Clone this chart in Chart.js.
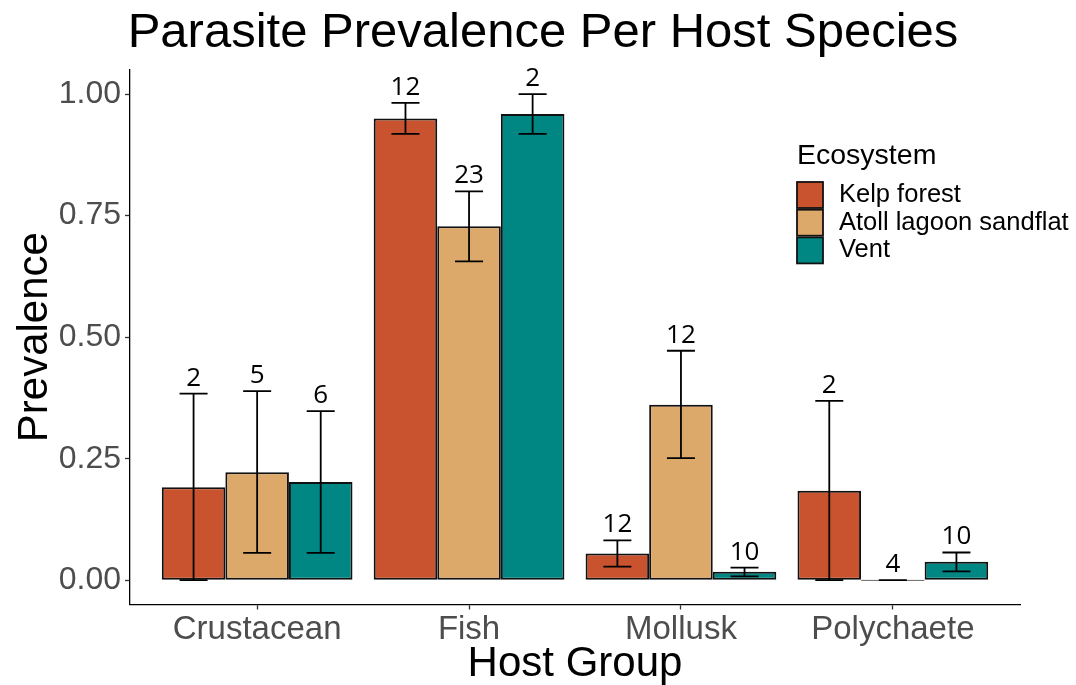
<!DOCTYPE html>
<html>
<head>
<meta charset="utf-8">
<script src="https://cdn.jsdelivr.net/npm/chart.js@4/dist/chart.umd.min.js"></script>
<style>
    html, body { margin: 0; padding: 0; background: #fff; }
    #wrap { width: 1076px; height: 685px; }
</style>
</head>
<body>
<div id="wrap"><canvas id="prevChart"></canvas></div>
<script>
const hostGroups = ['Crustacean', 'Fish', 'Mollusk', 'Polychaete'];
const ecosystems = ['Kelp forest', 'Atoll lagoon sandflat', 'Vent'];

// mean prevalence per group
const kelpPrev = [0.191, 0.950, 0.055, 0.184];
const atollPrev = [0.222, 0.728, 0.361, 0.0];
const ventPrev = [0.202, 0.959, 0.0175, 0.038];

// error bar bounds
const kelpLow = [0.0, 0.918, 0.028, 0.0];
const kelpHigh = [0.384, 0.982, 0.082, 0.369];
const atollLow = [0.056, 0.656, 0.251, 0.0];
const atollHigh = [0.389, 0.800, 0.472, 0.0];
const ventLow = [0.056, 0.918, 0.008, 0.018];
const ventHigh = [0.348, 1.0, 0.026, 0.057];

// sample sizes shown above the bars
const kelpN = [2, 12, 12, 2];
const atollN = [5, 23, 12, 4];
const ventN = [6, 2, 10, 10];

const yTicks = [0, 0.25, 0.5, 0.75, 1.0];

const colors = ['#C8532E', '#DDA96B', '#008784'];
const FONT = '"Liberation Sans", Arial, Helvetica, sans-serif';

const lows = [kelpLow, atollLow, ventLow];
const highs = [kelpHigh, atollHigh, ventHigh];
const counts = [kelpN, atollN, ventN];

// error bars + n labels
const errorBars = {
    id: 'errorBars',
    afterDatasetsDraw(chart) {
        const ctx = chart.ctx;
        const y = chart.scales.y;
        ctx.save();
        ctx.strokeStyle = '#000';
        ctx.lineWidth = 1.8;
        chart.data.datasets.forEach((ds, i) => {
            const meta = chart.getDatasetMeta(i);
            meta.data.forEach((bar, j) => {
                const top = y.getPixelForValue(highs[i][j]);
                const bot = y.getPixelForValue(lows[i][j]);
                const x = bar.x;
                ctx.beginPath();
                ctx.moveTo(x, top); ctx.lineTo(x, bot);
                ctx.moveTo(x - 14, top); ctx.lineTo(x + 14, top);
                ctx.moveTo(x - 14, bot); ctx.lineTo(x + 14, bot);
                ctx.stroke();
                ctx.fillStyle = '#000';
                ctx.font = '26px "Open Sans", sans-serif';
                ctx.textAlign = 'center';
                ctx.textBaseline = 'alphabetic';
                ctx.fillText(String(counts[i][j]), x, top - 8);
            });
        });
        ctx.restore();
    }
};

// legend inside the plot, ggplot style
const boxLegend = {
    id: 'boxLegend',
    afterDraw(chart) {
        const ctx = chart.ctx;
        ctx.save();
        ctx.fillStyle = '#000';
        ctx.textAlign = 'left';
        ctx.textBaseline = 'alphabetic';
        ctx.font = '28.5px ' + FONT;
        ctx.fillText('Ecosystem', 797, 164);
        chart.data.datasets.forEach((ds, i) => {
            const top = 182 + i * 27.7;
            ctx.fillStyle = ds.backgroundColor;
            ctx.fillRect(797, top, 26, 26);
            ctx.strokeStyle = '#111';
            ctx.lineWidth = 1.8;
            ctx.strokeRect(797, top, 26, 26);
            ctx.fillStyle = '#000';
            ctx.font = '25.5px ' + FONT;
            ctx.textBaseline = 'middle';
            ctx.fillText(ds.label, 839, top + 13);
            ctx.textBaseline = 'alphabetic';
        });
        ctx.restore();
    }
};

new Chart(document.getElementById('prevChart'), {
    type: 'bar',
    data: {
        labels: hostGroups,
        datasets: [kelpPrev, atollPrev, ventPrev].map((vals, i) => ({
            label: ecosystems[i],
            data: vals,
            backgroundColor: colors[i],
            borderColor: '#111',
            borderWidth: 2,
            borderSkipped: false,
            minBarLength: 1,
            categoryPercentage: 0.9,
            barPercentage: 1.0
        }))
    },
    options: {
        responsive: true,
        maintainAspectRatio: false,
        animation: false,
        layout: { padding: { top: 4, left: 10, right: 0, bottom: 0 } },
        plugins: {
            legend: { display: false },
            tooltip: { enabled: false },
            title: {
                display: true,
                text: 'Parasite Prevalence Per Host Species',
                color: '#000',
                font: { family: FONT, size: 49, weight: 'normal', lineHeight: 1.2 },
                padding: { top: 0, bottom: 7 }
            }
        },
        scales: {
            x: {
                offset: true,
                grid: { display: true, drawOnChartArea: false, offset: false, tickLength: 5, color: '#333', tickWidth: 1.3 },
                border: { display: true, color: '#000', width: 1.3 },
                ticks: { color: '#4D4D4D', padding: 1, font: { family: FONT, size: 33 } },
                title: {
                    display: true, text: 'Host Group', color: '#000',
                    font: { family: FONT, size: 42, lineHeight: 1.0 },
                    padding: { top: 0, bottom: 0 }
                },
                afterBuildTicks: s => { s._startValue = -0.6; s._valueRange = 4.2; },
                afterFit: s => { s.height = 80.5; }
            },
            y: {
                min: -0.05,
                max: 1.05,
                afterBuildTicks: s => { s.ticks = yTicks.map(v => ({ value: v })); },
                grid: { display: true, drawOnChartArea: false, tickLength: 5, color: '#333', tickWidth: 1.3 },
                border: { display: true, color: '#000', width: 1.3 },
                ticks: {
                    color: '#4D4D4D', padding: 4,
                    font: { family: FONT, size: 32 },
                    callback: v => Number(v).toFixed(2)
                },
                title: {
                    display: true, text: 'Prevalence', color: '#000',
                    font: { family: FONT, size: 42, lineHeight: 1.2 },
                    padding: { top: 0, bottom: 0 }
                },
                afterFit: s => { s.width = 120; }
            },
            y2: {
                position: 'right',
                display: true,
                grid: { display: false },
                border: { display: false },
                ticks: { display: false },
                afterFit: s => { s.width = 56; }
            }
        }
    },
    plugins: [errorBars, boxLegend]
});
</script>
</body>
</html>
